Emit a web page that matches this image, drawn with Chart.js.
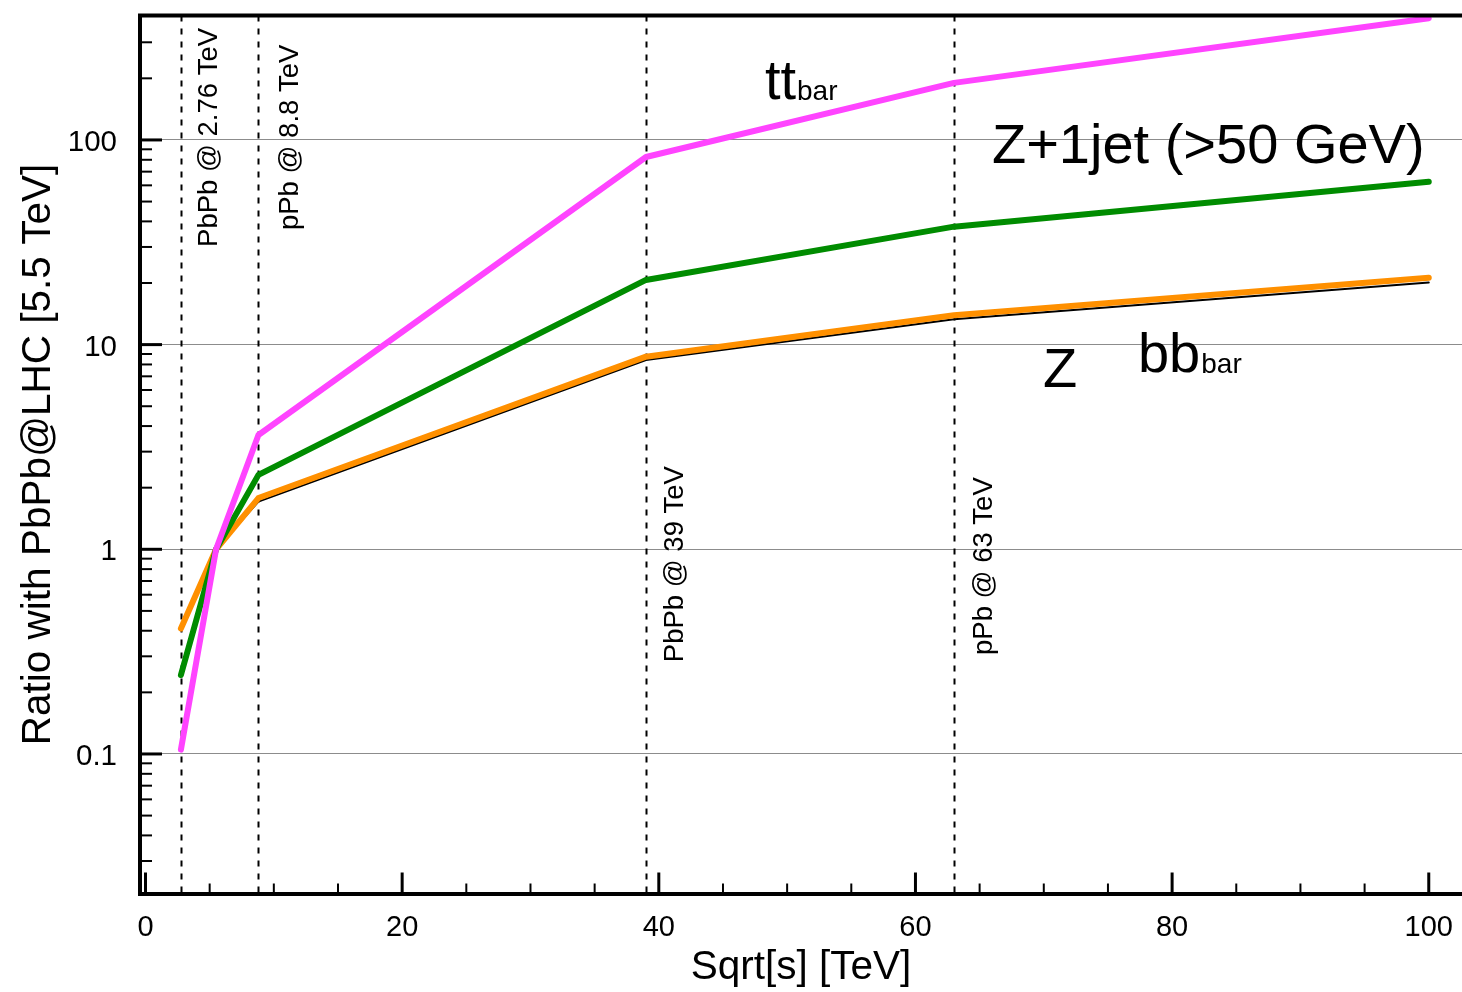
<!DOCTYPE html>
<html>
<head>
<meta charset="utf-8">
<title>Ratio with PbPb@LHC</title>
<script src="https://cdn.jsdelivr.net/npm/chart.js@4/dist/chart.umd.min.js"></script>
<style>
    html, body { margin: 0; padding: 0; background: #fff; }
    #wrap { width: 1462px; height: 992px; position: relative; }
</style>
</head>
<body>
<div id="wrap"><canvas id="chart"></canvas></div>
<script>
// Collision energies (TeV) and cross-section ratios relative to PbPb at 5.5 TeV
const energies = [2.76, 5.5, 8.8, 39, 63, 100];
const ttbarRatio = [0.105, 1, 3.62, 82.5, 190, 393];
const zJetRatio = [0.243, 1, 2.31, 20.7, 37.7, 62.5];
const bbbarRatio = [0.41, 1, 1.78, 8.73, 13.9, 21.2];
const zRatio = [0.42, 1, 1.71, 8.41, 13.3, 20.1];

// Reference collision systems marked with dashed lines
const markerEnergies = [2.76, 8.8, 39, 63];
const markerLabels = [
    { text: 'PbPb @ 2.76 TeV', x: 5.57, y: 30.0 },
    { text: 'pPb @ 8.8 TeV', x: 11.88, y: 36.3 },
    { text: 'PbPb @ 39 TeV', x: 41.88, y: 0.281 },
    { text: 'pPb @ 63 TeV', x: 65.96, y: 0.3045 }
];

// Curve names written inside the plot
const curveLabels = [
    { text: 'tt', sub: 'bar', x: 48.27, y: 158.6 },
    { text: 'Z+1jet (>50 GeV)', sub: '', x: 65.96, y: 77.2 },
    { text: 'Z', sub: '', x: 69.93, y: 6.21 },
    { text: 'bb', sub: 'bar', x: 77.34, y: 7.35 }
];

const xTickValues = [0, 20, 40, 60, 80, 100];
const yTickValues = [0.1, 1, 10, 100];

const FONT = '"Liberation Sans", Arial, Helvetica, sans-serif';

function toPoints(values) {
    return energies.map((e, i) => ({ x: e, y: values[i] }));
}

// Inside-pointing ticks, top frame and dashed marker lines
const framePlugin = {
    id: 'frame',
    beforeDatasetsDraw(chart) {
        const { ctx, chartArea: area, scales: { x } } = chart;
        ctx.save();
        ctx.strokeStyle = '#000';
        ctx.lineWidth = 2;
        ctx.setLineDash([6, 7]);
        markerEnergies.forEach(e => {
            const px = Math.round(x.getPixelForValue(e)) + 0.5;
            ctx.beginPath();
            ctx.moveTo(px, area.top);
            ctx.lineTo(px, area.bottom);
            ctx.stroke();
        });
        ctx.restore();
    },
    afterDraw(chart) {
        const { ctx, chartArea: area, scales: { x, y } } = chart;
        ctx.save();
        ctx.strokeStyle = '#000';

        // y axis: decades long, 2..9 short
        for (let d = -2; d <= 2; d++) {
            for (let m = 1; m <= 9; m++) {
                const v = m * Math.pow(10, d);
                const py = y.getPixelForValue(v);
                if (py < area.top + 2 || py > area.bottom - 2) continue;
                ctx.lineWidth = m === 1 ? 3 : 2;
                ctx.beginPath();
                ctx.moveTo(area.left, py);
                ctx.lineTo(area.left + (m === 1 ? 22 : 12), py);
                ctx.stroke();
            }
        }
        // x axis: every 20 long, every 5 short
        for (let v = 0; v <= 100; v += 5) {
            const px = x.getPixelForValue(v);
            const major = v % 20 === 0;
            ctx.lineWidth = major ? 3 : 2;
            ctx.beginPath();
            ctx.moveTo(px, area.bottom);
            ctx.lineTo(px, area.bottom - (major ? 21 : 10));
            ctx.stroke();
        }
        // top frame line
        ctx.lineWidth = 4;
        ctx.beginPath();
        ctx.moveTo(area.left - 2, area.top);
        ctx.lineTo(chart.width, area.top);
        ctx.stroke();
        ctx.restore();
    },
    afterDatasetsDraw(chart) {
        const { ctx, scales: { x, y } } = chart;
        ctx.save();
        ctx.fillStyle = '#000';
        ctx.textBaseline = 'alphabetic';

        // rotated system labels
        ctx.font = '27.5px ' + FONT;
        ctx.textAlign = 'left';
        markerLabels.forEach(l => {
            ctx.save();
            ctx.translate(x.getPixelForValue(l.x), y.getPixelForValue(l.y));
            ctx.rotate(-Math.PI / 2);
            ctx.fillText(l.text, 0, 0);
            ctx.restore();
        });

        // curve names with subscripts
        curveLabels.forEach(l => {
            const px = x.getPixelForValue(l.x);
            const py = y.getPixelForValue(l.y);
            ctx.font = '56px ' + FONT;
            ctx.fillText(l.text, px, py);
            if (l.sub) {
                const w = ctx.measureText(l.text).width;
                ctx.font = '28px ' + FONT;
                ctx.fillText(l.sub, px + w + 1, py + 1);
            }
        });
        ctx.restore();
    }
};

const ctx = document.getElementById('chart').getContext('2d');
new Chart(ctx, {
    type: 'line',
    data: {
        datasets: [
            { label: 'ttbar', data: toPoints(ttbarRatio), borderColor: '#ff44ff', borderWidth: 6 },
            { label: 'Z+1jet', data: toPoints(zJetRatio), borderColor: '#008c00', borderWidth: 6 },
            { label: 'bbbar', data: toPoints(bbbarRatio), borderColor: '#ff9000', borderWidth: 6 },
            { label: 'Z', data: toPoints(zRatio), borderColor: '#000000', borderWidth: 2 }
        ]
    },
    options: {
        responsive: true,
        maintainAspectRatio: false,
        animation: false,
        layout: { padding: { top: 15.5, right: 0, left: 0, bottom: 0 } },
        elements: {
            point: { radius: 0, hoverRadius: 0 },
            line: { tension: 0, fill: false, borderCapStyle: 'round', borderJoinStyle: 'round' }
        },
        plugins: {
            legend: { display: false },
            tooltip: { enabled: false }
        },
        scales: {
            x: {
                type: 'linear',
                min: -0.4286,
                max: 102.59,
                grid: { color: 'rgba(0,0,0,0)', drawTicks: false },
                border: { display: true, color: '#000', width: 4 },
                ticks: {
                    color: '#000',
                    font: { family: FONT, size: 29 },
                    padding: 17,
                    autoSkip: false,
                    maxRotation: 0,
                    includeBounds: false,
                    callback: v => String(v)
                },
                afterBuildTicks: scale => {
                    scale.ticks = xTickValues.map(v => ({ value: v }));
                },
                afterFit: scale => {
                    scale.height = 98.5;
                    scale.paddingLeft = 0;
                    scale.paddingRight = 0;
                },
                title: {
                    display: true,
                    text: 'Sqrt[s] [TeV]',
                    color: '#000',
                    font: { family: FONT, size: 40.5 },
                    padding: { top: 0, bottom: 0 }
                }
            },
            y: {
                type: 'logarithmic',
                min: 0.02081,
                max: 405.5,
                grid: { color: '#8c8c8c', lineWidth: 1, drawTicks: false },
                border: { display: true, color: '#000', width: 4 },
                ticks: {
                    color: '#000',
                    font: { family: FONT, size: 29.5 },
                    padding: 23,
                    labelOffset: 3,
                    autoSkip: false,
                    callback: v => String(v)
                },
                afterBuildTicks: scale => {
                    scale.ticks = yTickValues.map(v => ({ value: v }));
                },
                afterFit: scale => {
                    scale.width = 140;
                    scale.paddingTop = 0;
                    scale.paddingBottom = 0;
                },
                title: {
                    display: true,
                    text: 'Ratio with PbPb@LHC [5.5 TeV]',
                    color: '#000',
                    font: { family: FONT, size: 40.5 },
                    padding: { top: 15, bottom: 0 }
                }
            }
        }
    },
    plugins: [framePlugin]
});
</script>
</body>
</html>
